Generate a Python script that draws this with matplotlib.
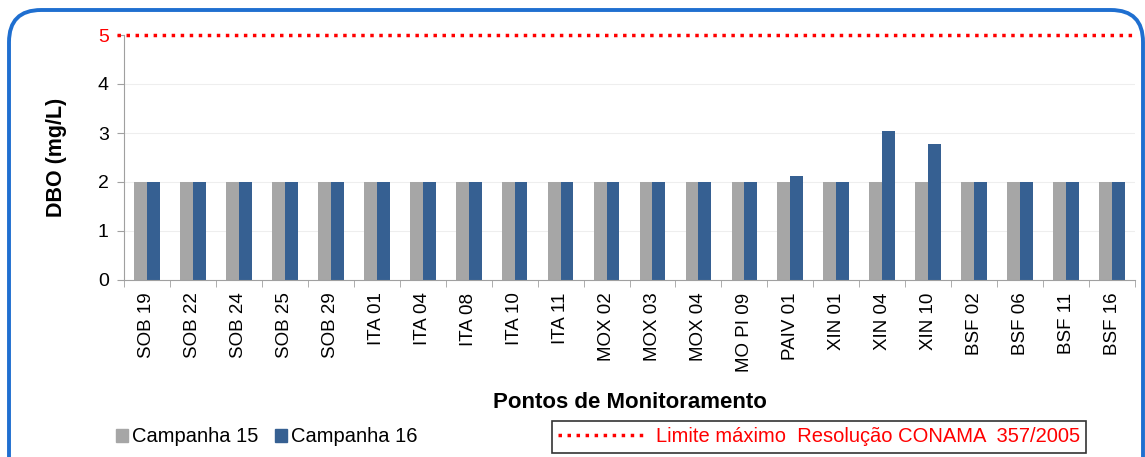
import matplotlib.pyplot as plt
import numpy as np
from matplotlib.patches import FancyBboxPatch, Rectangle
from matplotlib.lines import Line2D

plt.rcParams["font.family"] = ["Liberation Sans", "DejaVu Sans"]

PONTOS = ["SOB 19", "SOB 22", "SOB 24", "SOB 25", "SOB 29", "ITA 01", "ITA 04",
          "ITA 08", "ITA 10", "ITA 11", "MOX 02", "MOX 03", "MOX 04", "MO PI 09",
          "PAIV 01", "XIN 01", "XIN 04", "XIN 10", "BSF 02", "BSF 06", "BSF 11", "BSF 16"]
CAMP15 = [2, 2, 2, 2, 2, 2, 2, 2, 2, 2, 2, 2, 2, 2, 2, 2, 2, 2, 2, 2, 2, 2]
CAMP16 = [2, 2, 2, 2, 2, 2, 2, 2, 2, 2, 2, 2, 2, 2, 2.12, 2, 3.05, 2.78, 2, 2, 2, 2]
LIMITE = 5

fig = plt.figure(figsize=(11.45, 4.57), dpi=100)
W, H = 1145, 457

# rounded blue frame
frame = FancyBboxPatch((9 / W, -0.2), (1143 - 9) / W, 1.2 - 10 / H,
                       boxstyle="round,pad=0,rounding_size=0.028",
                       transform=fig.transFigure, fill=False,
                       edgecolor="#1f6fd0", linewidth=2.8, mutation_aspect=W / H)
fig.patches.append(frame)

ax = fig.add_axes([124 / W, 1 - 280 / H, (1135 - 124) / W, (280 - 35) / H])
n = len(CAMP15)
x = np.arange(n)
bw = 0.28
ax.bar(x - bw / 2, CAMP15, width=bw, color="#a6a6a6", label="Campanha 15")
ax.bar(x + bw / 2, CAMP16, width=bw, color="#366092", label="Campanha 16")
ax.axhline(LIMITE, xmin=-0.007, color="red", linestyle=(0, (1, 1.6)),
           linewidth=2.5, clip_on=False)

ax.set_xlim(-0.5, n - 0.5)
ax.set_ylim(0, 5)
ax.set_yticks(range(6))
ax.set_yticklabels([str(v) for v in range(6)], fontsize=14)
ax.get_yticklabels()[-1].set_color("red")
for v in range(1, 5):
    ax.axhline(v, color="#eeeeee", linewidth=0.8, zorder=0)

ax.set_xticks(x)
ax.set_xticklabels(PONTOS, rotation=90, fontsize=13.5)
ax.set_xticks(np.arange(-0.5, n, 1), minor=True)
ax.tick_params(axis="x", which="major", length=0, pad=9)
ax.tick_params(axis="x", which="minor", length=5, color="#a0a0a0")
ax.tick_params(axis="y", length=5, color="#a0a0a0", pad=6)
for s in ["top", "right"]:
    ax.spines[s].set_visible(False)
for s in ["left", "bottom"]:
    ax.spines[s].set_color("#a0a0a0")

ax.set_ylabel("DBO (mg/L)", fontsize=15.5, fontweight="bold", labelpad=22)
fig.text(630 / W, 1 - 403 / H, "Pontos de Monitoramento", fontsize=16,
         fontweight="bold", ha="center", va="center")

# legends
h1 = Rectangle((0, 0), 1, 1, color="#a6a6a6")
h2 = Rectangle((0, 0), 1, 1, color="#366092")
fig.legend([h1, h2], ["Campanha 15", "Campanha 16"], loc="center left",
           bbox_to_anchor=(116 / W, 1 - 437 / H), ncol=2, frameon=False,
           fontsize=14.5, handlelength=0.6, handleheight=0.6, handletextpad=0.2,
           columnspacing=0.8, borderaxespad=0, borderpad=0)
hl = Line2D([0], [0], color="red", linestyle=(0, (1, 1.6)), linewidth=2.5)
leg = fig.legend([hl], ["Limite máximo  Resolução CONAMA  357/2005"],
                 loc="center", bbox_to_anchor=(819 / W, 1 - 437 / H),
                 frameon=True, fancybox=False, fontsize=14.5, handlelength=4.5,
                 handletextpad=0.4, borderpad=0.3, labelcolor="red",
                 borderaxespad=0)
leg.get_frame().set_edgecolor("black")
leg.get_frame().set_linewidth(1.2)

fig.savefig("out.png", dpi=100)
